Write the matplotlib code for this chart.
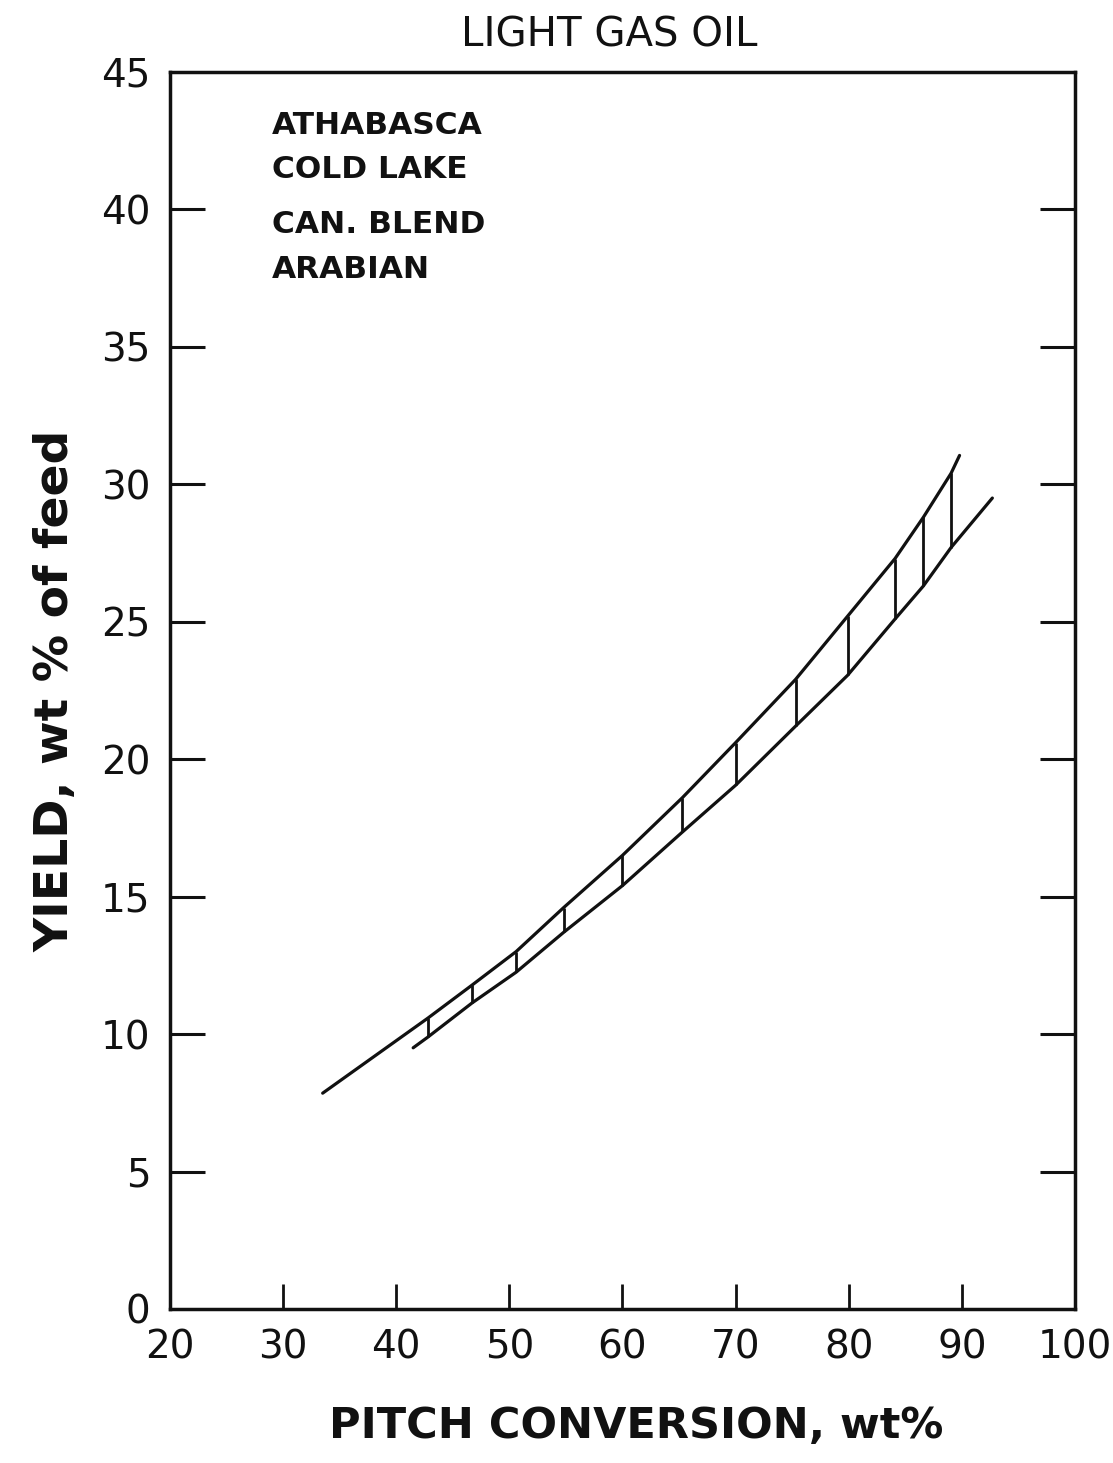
import matplotlib.pyplot as plt

# upper and lower bounds of the light gas oil yield band (pitch conversion, wt%)
upper_x = [33.5, 42.8, 46.7, 50.6, 54.8, 60.0, 65.3, 70.0, 75.3, 79.9, 84.1, 86.6, 89.05, 89.8]
upper_y = [7.85, 10.58, 11.78, 13.0, 14.6, 16.5, 18.6, 20.6, 22.9, 25.2, 27.3, 28.8, 30.4, 31.05]
lower_x = [41.5, 42.8, 46.7, 50.6, 54.8, 60.0, 65.3, 70.0, 75.3, 79.9, 84.1, 86.6, 89.05, 92.7]
lower_y = [9.5, 9.89, 11.13, 12.25, 13.7, 15.4, 17.35, 19.05, 21.2, 23.05, 25.1, 26.3, 27.7, 29.5]

# vertical hatching spans the band at the shared x points
hatch_x = upper_x[1:-1]
hatch_top = upper_y[1:-1]
hatch_bot = lower_y[1:-1]

crudes = ['ATHABASCA', 'COLD LAKE', 'CAN. BLEND', 'ARABIAN']
crude_ypos = [0.957, 0.921, 0.877, 0.840]

x_ticks = [20, 30, 40, 50, 60, 70, 80, 90, 100]
y_ticks = [0, 5, 10, 15, 20, 25, 30, 35, 40, 45]

plt.rcParams['font.family'] = 'DejaVu Sans'
fig = plt.figure(figsize=(11.13, 14.63), dpi=100)
ax = fig.add_axes([0.1527, 0.1053, 0.8131, 0.8455])

ink = '#111111'
ax.plot(upper_x, upper_y, color=ink, linewidth=2.3, solid_capstyle='round')
ax.plot(lower_x, lower_y, color=ink, linewidth=2.3, solid_capstyle='round')
ax.vlines(hatch_x, hatch_bot, hatch_top, color=ink, linewidth=2.0)

for name, yp in zip(crudes, crude_ypos):
    ax.text(0.113, yp, name, transform=ax.transAxes, fontsize=22.5,
            fontweight='semibold', color=ink, va='center', ha='left')

ax.set_xlim(20, 100)
ax.set_ylim(0, 45)
ax.set_xticks(x_ticks)
ax.set_yticks(y_ticks)
ax.tick_params(axis='x', direction='in', length=18, width=2, pad=14,
               labelsize=28, colors=ink, top=False)
ax.tick_params(axis='y', direction='in', length=25, width=2.2, pad=14,
               labelsize=28, colors=ink, right=True)
# hide the tick marks at the corners
ax.xaxis.get_major_ticks()[0].tick1line.set_visible(False)
ax.xaxis.get_major_ticks()[-1].tick1line.set_visible(False)
for t in (ax.yaxis.get_major_ticks()[0], ax.yaxis.get_major_ticks()[-1]):
    t.tick1line.set_visible(False)
    t.tick2line.set_visible(False)

for s in ax.spines.values():
    s.set_linewidth(2.5)
    s.set_color(ink)

ax.set_title('LIGHT GAS OIL', fontsize=29, color=ink, pad=18, x=0.485)
ax.set_xlabel('PITCH CONVERSION, wt%', fontsize=31, fontweight='bold',
              color=ink, labelpad=28, x=0.515)
ax.set_ylabel('YIELD, wt % of feed', fontsize=34, fontweight='bold',
              color=ink, labelpad=16)

fig.savefig('out.png', dpi=100, facecolor='white')
